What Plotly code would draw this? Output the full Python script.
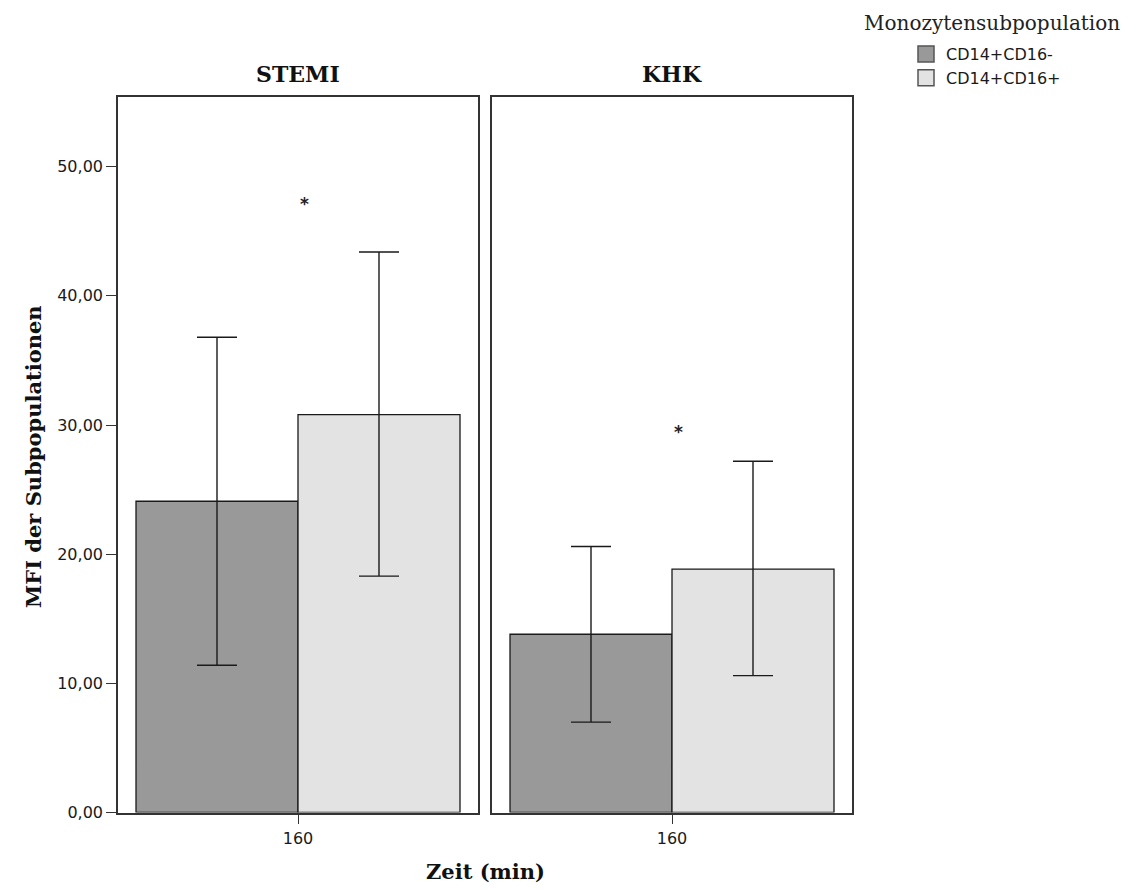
import plotly.graph_objects as go

# ---- data ----
panels = ["STEMI", "KHK"]
time_cat = ["160"]
series = ["CD14+CD16-", "CD14+CD16+"]
mean_neg = [24.1, 13.8]      # CD14+CD16- means (STEMI, KHK)
upper_neg = [36.8, 20.6]
lower_neg = [11.4, 7.0]
mean_pos = [30.8, 18.85]     # CD14+CD16+ means (STEMI, KHK)
upper_pos = [43.4, 27.2]
lower_pos = [18.3, 10.6]
star_y = [47.1, 29.5]
y_ticks = [0, 10, 20, 30, 40, 50]

colors = {"CD14+CD16-": "#999999", "CD14+CD16+": "#e3e3e3"}
W, H = 1137, 890
HEFF = 880.0   # vertical calibration of the rendered page


def fx(px):
    return px / W


def fy(py):
    return 1 - py / HEFF


fig = go.Figure()
means = {"CD14+CD16-": mean_neg, "CD14+CD16+": mean_pos}
uppers = {"CD14+CD16-": upper_neg, "CD14+CD16+": upper_pos}
lowers = {"CD14+CD16-": lower_neg, "CD14+CD16+": lower_pos}

for pi, panel in enumerate(panels):
    xa = "x" if pi == 0 else "x2"
    ya = "y" if pi == 0 else "y2"
    for s in series:
        m = means[s][pi]
        fig.add_trace(go.Bar(
            x=time_cat, y=[m], name=s, legendgroup=s, showlegend=False,
            xaxis=xa, yaxis=ya,
            marker=dict(color=colors[s], line=dict(color="#1a1a1a", width=1.3)),
            error_y=dict(type="data", symmetric=False,
                         array=[uppers[s][pi] - m], arrayminus=[m - lowers[s][pi]],
                         color="#1a1a1a", thickness=1.4, width=20),
        ))

# legend entries (square swatches like the original)
for s in series:
    fig.add_trace(go.Scatter(
        x=[None], y=[None], mode="markers", name=s, legendgroup=s, showlegend=True,
        marker=dict(symbol="square", size=16, color=colors[s],
                    line=dict(color="#555555", width=1.5)),
    ))

xd1 = [fx(118), fx(478)]
xd2 = [fx(492), fx(852)]
yd = [fy(812.5), fy(97)]
ymax = 55.4
xr = [-0.5, len(time_cat) - 0.5]

axis_common = dict(showline=True, linecolor="#333333", linewidth=1.6, mirror=True,
                   showgrid=False, zeroline=False)
tickfont = dict(family="DejaVu Sans", size=16, color="#1a1a1a")

fig.update_layout(
    width=W, height=H,
    margin=dict(l=0, r=0, t=0, b=0),
    paper_bgcolor="white", plot_bgcolor="white",
    separators=",.",
    barmode="group", bargap=0.1, bargroupgap=0,
    xaxis=dict(domain=xd1, anchor="y", type="category", range=xr, ticks="outside", ticklen=10,
               tickcolor="#333333", tickwidth=1.3, tickfont=tickfont, **axis_common),
    xaxis2=dict(domain=xd2, anchor="y2", type="category", range=xr, ticks="outside", ticklen=10,
                tickcolor="#333333", tickwidth=1.3, tickfont=tickfont, **axis_common),
    yaxis=dict(domain=yd, anchor="x", range=[0, ymax], tickvals=y_ticks, tickformat=".2f",
               ticks="outside", ticklen=10, tickcolor="#333333", tickwidth=1.3,
               tickfont=tickfont, **axis_common),
    yaxis2=dict(domain=yd, anchor="x2", range=[0, ymax], showticklabels=False, ticks="",
                **axis_common),
    legend=dict(x=fx(906), y=fy(37), xanchor="left", yanchor="top",
                font=dict(family="DejaVu Sans", size=16, color="#1a1a1a"),
                tracegroupgap=0, itemwidth=30, bgcolor="rgba(0,0,0,0)"),
    showlegend=True,
)

title_font = dict(family="DejaVu Serif", size=22, color="#111")
annotations = [
    dict(text="<b>STEMI</b>", x=(xd1[0] + xd1[1]) / 2, y=fy(74), xref="paper", yref="paper",
         xanchor="center", yanchor="middle", showarrow=False, font=title_font),
    dict(text="<b>KHK</b>", x=(xd2[0] + xd2[1]) / 2, y=fy(74), xref="paper", yref="paper",
         xanchor="center", yanchor="middle", showarrow=False, font=title_font),
    dict(text="<b>MFI der Subpopulationen</b>", x=fx(33), y=fy(457), xref="paper",
         yref="paper", xanchor="center", yanchor="middle", showarrow=False, textangle=-90,
         font=dict(family="DejaVu Serif", size=21, color="#111")),
    dict(text="<b>Zeit (min)</b>", x=fx(485), y=fy(871), xref="paper", yref="paper",
         xanchor="center", yanchor="middle", showarrow=False,
         font=dict(family="DejaVu Serif", size=21, color="#111")),
    dict(text="Monozytensubpopulation", x=fx(992), y=fy(23), xref="paper", yref="paper",
         xanchor="center", yanchor="middle", showarrow=False,
         font=dict(family="DejaVu Serif", size=20, color="#222")),
]
for pi in range(2):
    annotations.append(dict(text="<b>*</b>", x=time_cat.index("160"), y=star_y[pi],
                            xref="x" if pi == 0 else "x2", yref="y" if pi == 0 else "y2",
                            xshift=6, showarrow=False,
                            font=dict(family="DejaVu Sans", size=17, color="#222")))
fig.update_layout(annotations=annotations)

fig.write_html("out.html")
